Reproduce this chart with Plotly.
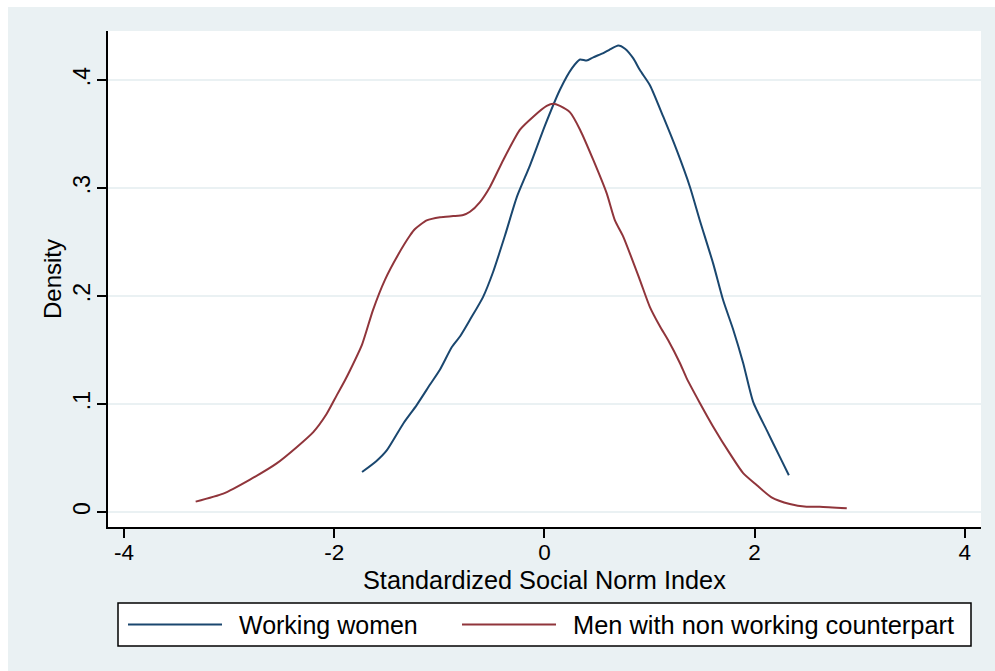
import plotly.graph_objects as go

# ---------------- data ----------------
women_x = [-1.735, -1.60, -1.50, -1.342, -1.215, -1.088, -0.993, -0.879, -0.80, -0.708,
           -0.584, -0.489, -0.375, -0.261, -0.137, 0.006, 0.148, 0.263, 0.339, 0.402, 0.465,
           0.561, 0.618, 0.703, 0.767, 0.846, 0.910, 1.005, 1.131, 1.259, 1.385,
           1.479, 1.606, 1.701, 1.796, 1.891, 1.986, 2.114, 2.240, 2.326]
women_y = [0.037, 0.047, 0.057, 0.082, 0.099, 0.118, 0.132, 0.153, 0.163, 0.178,
           0.199, 0.222, 0.256, 0.292, 0.321, 0.358, 0.391, 0.411, 0.419, 0.418, 0.421,
           0.425, 0.428, 0.432, 0.429, 0.420, 0.409, 0.395, 0.366, 0.335, 0.301,
           0.270, 0.230, 0.196, 0.169, 0.138, 0.102, 0.076, 0.051, 0.034]

men_x = [-3.318, -3.055, -2.801, -2.547, -2.357, -2.199, -2.071, -1.976, -1.897, -1.850,
         -1.735, -1.631, -1.517, -1.393, -1.279, -1.231, -1.12, -0.993, -0.867, -0.772,
         -0.708, -0.613, -0.518, -0.391, -0.232, -0.106, 0.022, 0.085, 0.148, 0.244,
         0.339, 0.465, 0.593, 0.671, 0.75, 0.908, 1.003, 1.099, 1.178, 1.289,
         1.353, 1.479, 1.606, 1.765, 1.891, 2.019, 2.161, 2.335, 2.494, 2.62, 2.877]
men_y = [0.0096, 0.017, 0.030, 0.045, 0.060, 0.074, 0.091, 0.108, 0.122, 0.131,
         0.155, 0.187, 0.215, 0.238, 0.256, 0.262, 0.270, 0.273, 0.274, 0.275,
         0.278, 0.287, 0.301, 0.326, 0.354, 0.366, 0.376, 0.378, 0.376, 0.370,
         0.354, 0.326, 0.295, 0.270, 0.255, 0.215, 0.190, 0.172, 0.159, 0.138,
         0.124, 0.101, 0.079, 0.054, 0.036, 0.025, 0.0136, 0.0074, 0.0049, 0.0049, 0.0034]

x_ticks = [-4, -2, 0, 2, 4]
x_tick_labels = ["-4", "-2", "0", "2", "4"]
y_ticks = [0, 0.1, 0.2, 0.3, 0.4]
y_tick_labels = ["0", ".1", ".2", ".3", ".4"]

series_names = ["Working women", "Men with non working counterpart"]
x_title = "Standardized Social Norm Index"
y_title = "Density"

# ---------------- style ----------------
BLUE = "#1A476F"
RED = "#90353B"
BG = "#EAF1F3"
FONT = "Liberation Sans, Arial, sans-serif"

W, H = 995, 671
L, R, T, B = 108, 981, 31, 527   # plot area in pixels
PW, PH = R - L, B - T


def px(xp):
    return (xp - L) / PW


def py(yp):
    return (B - yp) / PH


fig = go.Figure()
fig.add_trace(go.Scatter(x=women_x, y=women_y, mode="lines", name=series_names[0],
                         line=dict(color=BLUE, width=2, shape="spline", smoothing=0.6),
                         showlegend=False))
fig.add_trace(go.Scatter(x=men_x, y=men_y, mode="lines", name=series_names[1],
                         line=dict(color=RED, width=2, shape="spline", smoothing=0.6),
                         showlegend=False))

shapes = [
    # thin white strips on top and left (outside plot area)
    dict(type="rect", xref="paper", yref="paper", x0=px(-5), x1=px(W + 5), y0=py(7), y1=py(-5),
         fillcolor="white", line=dict(width=0), layer="below"),
    dict(type="rect", xref="paper", yref="paper", x0=px(-5), x1=px(8), y0=py(H + 5), y1=py(-5),
         fillcolor="white", line=dict(width=0), layer="below"),
    # legend box
    dict(type="rect", xref="paper", yref="paper", x0=px(118), x1=px(971), y0=py(646), y1=py(603),
         fillcolor="white", line=dict(color="black", width=1.5), layer="above"),
    dict(type="line", xref="paper", yref="paper", x0=px(128), x1=px(222), y0=py(624.5), y1=py(624.5),
         line=dict(color=BLUE, width=2)),
    dict(type="line", xref="paper", yref="paper", x0=px(462), x1=px(556), y0=py(624.5), y1=py(624.5),
         line=dict(color=RED, width=2)),
]

annotations = [
    dict(text=series_names[0], xref="paper", yref="paper", x=px(237), y=py(624.5),
         xanchor="left", yanchor="middle", showarrow=False, font=dict(size=25, color="black", family=FONT)),
    dict(text=series_names[1], xref="paper", yref="paper", x=px(571), y=py(624.5),
         xanchor="left", yanchor="middle", showarrow=False, font=dict(size=25.4, color="black", family=FONT)),
    dict(text=x_title, xref="paper", yref="paper", x=0.5, y=py(580),
         xanchor="center", yanchor="middle", showarrow=False, font=dict(size=25.3, color="black", family=FONT)),
    dict(text=y_title, xref="paper", yref="paper", x=px(52), y=0.5, textangle=-90,
         xanchor="center", yanchor="middle", showarrow=False, font=dict(size=24, color="black", family=FONT)),
]

fig.update_layout(
    width=W, height=H,
    margin=dict(l=L, r=W - R, t=T, b=H - B, pad=0),
    paper_bgcolor=BG,
    plot_bgcolor="white",
    shapes=shapes,
    annotations=annotations,
    showlegend=False,
    font=dict(family=FONT, color="black"),
)

fig.update_xaxes(
    range=[-4.152, 4.154], tickvals=x_ticks, ticktext=x_tick_labels,
    showgrid=False, zeroline=False, showline=True, linecolor="black", linewidth=1.5,
    ticks="outside", ticklen=9, tickwidth=1.5, tickcolor="black",
    tickfont=dict(size=22.5, family=FONT, color="black"), ticklabelstandoff=-5,
)
fig.update_yaxes(
    range=[-0.0139, 0.4454], tickvals=y_ticks, ticktext=y_tick_labels,
    showgrid=True, gridcolor=BG, gridwidth=2, zeroline=False,
    showline=True, linecolor="black", linewidth=1.5,
    ticks="outside", ticklen=9, tickwidth=1.5, tickcolor="black", tickangle=-90,
    tickfont=dict(size=23, family=FONT, color="black"), ticklabelstandoff=-2,
)

fig.write_html("out.html")
